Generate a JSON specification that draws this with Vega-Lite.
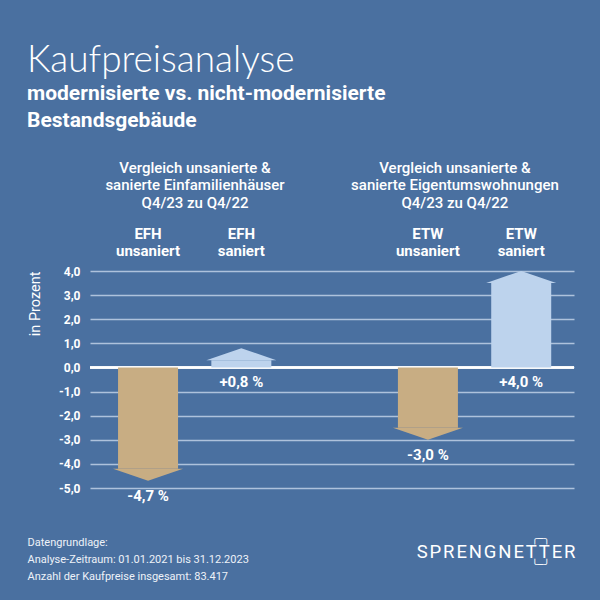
{
  "$schema": "https://vega.github.io/schema/vega-lite/v6.json",
  "background": "#4a70a0",
  "autosize": {"type": "none"},
  "padding": {"left": 90, "top": 271, "right": 26, "bottom": 112},
  "width": 484,
  "height": 217,
  "title": {
    "text": "Kaufpreisanalyse",
    "subtitle": ["modernisierte vs. nicht-modernisierte", "Bestandsgebäude"],
    "anchor": "start",
    "frame": "bounds",
    "font": "Lato",
    "fontSize": 37,
    "fontWeight": 300,
    "color": "#ffffff",
    "subtitleFont": "Roboto",
    "subtitleFontSize": 21,
    "subtitleFontWeight": "bold",
    "subtitleColor": "#ffffff",
    "subtitleLineHeight": 27,
    "subtitlePadding": 3,
    "offset": 28
  },
  "data": {
    "values": [
      {"col": "EFH unsaniert", "group": "Vergleich unsanierte &|sanierte Einfamilienhäuser|Q4/23 zu Q4/22", "value": -4.7},
      {"col": "EFH saniert", "group": "Vergleich unsanierte &|sanierte Einfamilienhäuser|Q4/23 zu Q4/22", "value": 0.8},
      {"col": "ETW unsaniert", "group": "Vergleich unsanierte &|sanierte Eigentumswohnungen|Q4/23 zu Q4/22", "value": -3.0},
      {"col": "ETW saniert", "group": "Vergleich unsanierte &|sanierte Eigentumswohnungen|Q4/23 zu Q4/22", "value": 4.0}
    ]
  },
  "config": {
    "locale": {
      "number": {"decimal": ",", "thousands": ".", "grouping": [3], "currency": ["", " %"], "minus": "-"}
    },
    "view": {"stroke": null},
    "font": "Roboto",
    "axis": {
      "labelColor": "#ffffff",
      "titleColor": "#ffffff",
      "labelFont": "Roboto",
      "titleFont": "Roboto",
      "domain": false,
      "ticks": false
    },
    "axisX": {"grid": false},
    "axisY": {
      "grid": true,
      "gridColor": "#aec2dc",
      "gridWidth": 1.5,
      "labelFontWeight": "bold",
      "labelFontSize": 12,
      "labelPadding": 10,
      "labelOverlap": false,
      "titleFontSize": 14.5,
      "titleFontWeight": "normal",
      "titlePadding": 16
    }
  },
  "resolve": {"scale": {"x": "independent"}},
  "layer": [
    {
      "mark": {"type": "rule", "color": "#ffffff", "strokeWidth": 2},
      "encoding": {
        "y": {"datum": 0, "type": "quantitative", "title": "in Prozent", "scale": {"domain": [-5, 4], "nice": false},
          "axis": {"values": [-5, -4, -3, -2, -1, 0, 1, 2, 3, 4], "format": ".1f", "titleAnchor": "end", "labelOverlap": false, "labelSeparation": 0}}
      }
    },
    {
      "transform": [{"filter": "datum.value < 0"}],
      "mark": {"type": "bar", "width": 60, "yOffset": -12, "color": "#c8ad83"},
      "encoding": {
        "x": {
          "field": "col", "type": "nominal",
          "scale": {"type": "band", "domain": ["EFH unsaniert", "EFH saniert", " ", "ETW unsaniert", "ETW saniert"], "paddingInner": 0, "paddingOuter": 0.094, "align": 0.65},
          "axis": {"orient": "top", "title": null, "labelPadding": 30, "labelAngle": 0, "labelOverlap": false, "labelLimit": 0,
            "labelExpr": "datum.label == ' ' ? '' : split(datum.label, ' ')",
            "labelFontSize": 15, "labelFontWeight": "bold", "labelLineHeight": 17}
        },
        "y": {"field": "value", "type": "quantitative", "title": "in Prozent", "scale": {"domain": [-5, 4], "nice": false},
          "axis": {"values": [-5, -4, -3, -2, -1, 0, 1, 2, 3, 4], "format": ".1f", "titleAnchor": "end", "labelOverlap": false, "labelSeparation": 0}},
        "y2": {"datum": 0}
      }
    },
    {
      "transform": [{"filter": "datum.value > 0"}],
      "mark": {"type": "bar", "width": 60, "yOffset": 12, "color": "#bdd3ed"},
      "encoding": {
        "x": {
          "field": "col", "type": "nominal",
          "scale": {"type": "band", "domain": ["EFH unsaniert", "EFH saniert", " ", "ETW unsaniert", "ETW saniert"], "paddingInner": 0, "paddingOuter": 0.094, "align": 0.65},
          "axis": null
        },
        "y": {"field": "value", "type": "quantitative", "title": "in Prozent",
          "axis": {"values": [-5, -4, -3, -2, -1, 0, 1, 2, 3, 4], "format": ".1f", "titleAnchor": "end", "labelOverlap": false, "labelSeparation": 0}},
        "y2": {"datum": 0}
      }
    },
    {
      "mark": {"type": "point", "filled": true, "opacity": 1, "size": 4900, "strokeWidth": 0},
      "encoding": {
        "x": {
          "field": "col", "type": "nominal",
          "scale": {"type": "band", "domain": ["EFH unsaniert", "EFH saniert", " ", "ETW unsaniert", "ETW saniert"], "paddingInner": 0, "paddingOuter": 0.094, "align": 0.65},
          "axis": {"orient": "bottom", "labels": false, "title": "S\u200aP\u200aR\u200aE\u200aN\u200aG\u200aN\u200aE\u200aT\u200aT\u200aE\u200aR", "titleX": 485, "titleY": 63,
            "titleAlign": "right", "titleBaseline": "middle", "titleFontSize": 18.5, "titleFontWeight": "normal", "titleColor": "#ffffff"}
        },
        "y": {"field": "value", "type": "quantitative", "title": "in Prozent",
          "axis": {"values": [-5, -4, -3, -2, -1, 0, 1, 2, 3, 4], "format": ".1f", "titleAnchor": "end", "labelOverlap": false, "labelSeparation": 0}},
        "shape": {
          "condition": {"test": "datum.value > 0", "value": "M0,0L1,0.343L-1,0.343Z"},
          "value": "M0,0L1,-0.343L-1,-0.343Z"
        },
        "color": {
          "condition": {"test": "datum.value > 0", "value": "#bdd3ed"},
          "value": "#c8ad83"
        }
      }
    },
    {
      "transform": [{"filter": "datum.value < 0"}],
      "mark": {"type": "text", "dy": 15, "baseline": "middle", "fontSize": 15, "fontWeight": "bold", "color": "#ffffff", "font": "Roboto"},
      "encoding": {
        "x": {
          "field": "col", "type": "nominal",
          "scale": {"type": "band", "domain": ["EFH unsaniert", "EFH saniert", " ", "ETW unsaniert", "ETW saniert"], "paddingInner": 0, "paddingOuter": 0.094, "align": 0.65},
          "axis": {"orient": "bottom", "labels": false,
            "title": ["Datengrundlage:", "Analyse-Zeitraum: 01.01.2021 bis 31.12.2023", "Anzahl der Kaufpreise insgesamt: 83.417"],
            "titleX": -63, "titleY": 48, "titleAlign": "left", "titleAnchor": "start", "titleBaseline": "top",
            "titleFont": "Roboto", "titleFontSize": 11, "titleFontWeight": "normal", "titleLineHeight": 17, "titleColor": "#eef2f8"}
        },
        "y": {"field": "value", "type": "quantitative", "title": "in Prozent",
          "axis": {"values": [-5, -4, -3, -2, -1, 0, 1, 2, 3, 4], "format": ".1f", "titleAnchor": "end", "labelOverlap": false, "labelSeparation": 0}},
        "text": {"field": "value", "type": "quantitative", "format": "+$.1f"}
      }
    },
    {
      "transform": [{"filter": "datum.value > 0"}],
      "mark": {"type": "text", "dy": 15, "baseline": "middle", "fontSize": 15, "fontWeight": "bold", "color": "#ffffff", "font": "Roboto"},
      "encoding": {
        "x": {
          "field": "col", "type": "nominal",
          "scale": {"type": "band", "domain": ["EFH unsaniert", "EFH saniert", " ", "ETW unsaniert", "ETW saniert"], "paddingInner": 0, "paddingOuter": 0.094, "align": 0.65},
          "axis": null
        },
        "y": {"datum": 0, "type": "quantitative", "title": "in Prozent",
          "axis": {"values": [-5, -4, -3, -2, -1, 0, 1, 2, 3, 4], "format": ".1f", "titleAnchor": "end", "labelOverlap": false, "labelSeparation": 0}},
        "text": {"field": "value", "type": "quantitative", "format": "+$.1f"}
      }
    },
    {
      "mark": {"type": "point", "opacity": 0},
      "encoding": {
        "x": {
          "field": "group", "type": "nominal", "sort": null,
          "scale": {"type": "band", "paddingInner": 0.338, "paddingOuter": 0.1, "align": 0.365},
          "axis": {"orient": "top", "offset": 84, "title": null, "labelPadding": 12, "labelAngle": 0, "labelOverlap": false, "labelLimit": 0,
            "labelExpr": "split(datum.label, '|')",
            "labelFontSize": 15, "labelFontWeight": 500, "labelLineHeight": 17.5}
        }
      }
    },
    {
      "mark": {"type": "point", "opacity": 0},
      "encoding": {
        "x": {
          "field": "col", "type": "nominal",
          "scale": {"type": "band", "domain": ["EFH unsaniert", "EFH saniert", " ", "ETW unsaniert", "ETW saniert"], "paddingInner": 0, "paddingOuter": 0.094, "align": 0.65},
          "axis": {"orient": "bottom", "labels": false, "title": "╭─╮", "titleX": 450, "titleY": 50,
            "titleAlign": "center", "titleBaseline": "middle", "titleFont": "DejaVu Sans Mono", "titleFontSize": 10, "titleFontWeight": "normal", "titleColor": "#ffffff"}
        }
      }
    },
    {
      "mark": {"type": "point", "opacity": 0},
      "encoding": {
        "x": {
          "field": "col", "type": "nominal",
          "scale": {"type": "band", "domain": ["EFH unsaniert", "EFH saniert", " ", "ETW unsaniert", "ETW saniert"], "paddingInner": 0, "paddingOuter": 0.094, "align": 0.65},
          "axis": {"orient": "bottom", "labels": false, "title": "╰─╯", "titleX": 450, "titleY": 76,
            "titleAlign": "center", "titleBaseline": "middle", "titleFont": "DejaVu Sans Mono", "titleFontSize": 10, "titleFontWeight": "normal", "titleColor": "#ffffff"}
        }
      }
    }
  ]
}
